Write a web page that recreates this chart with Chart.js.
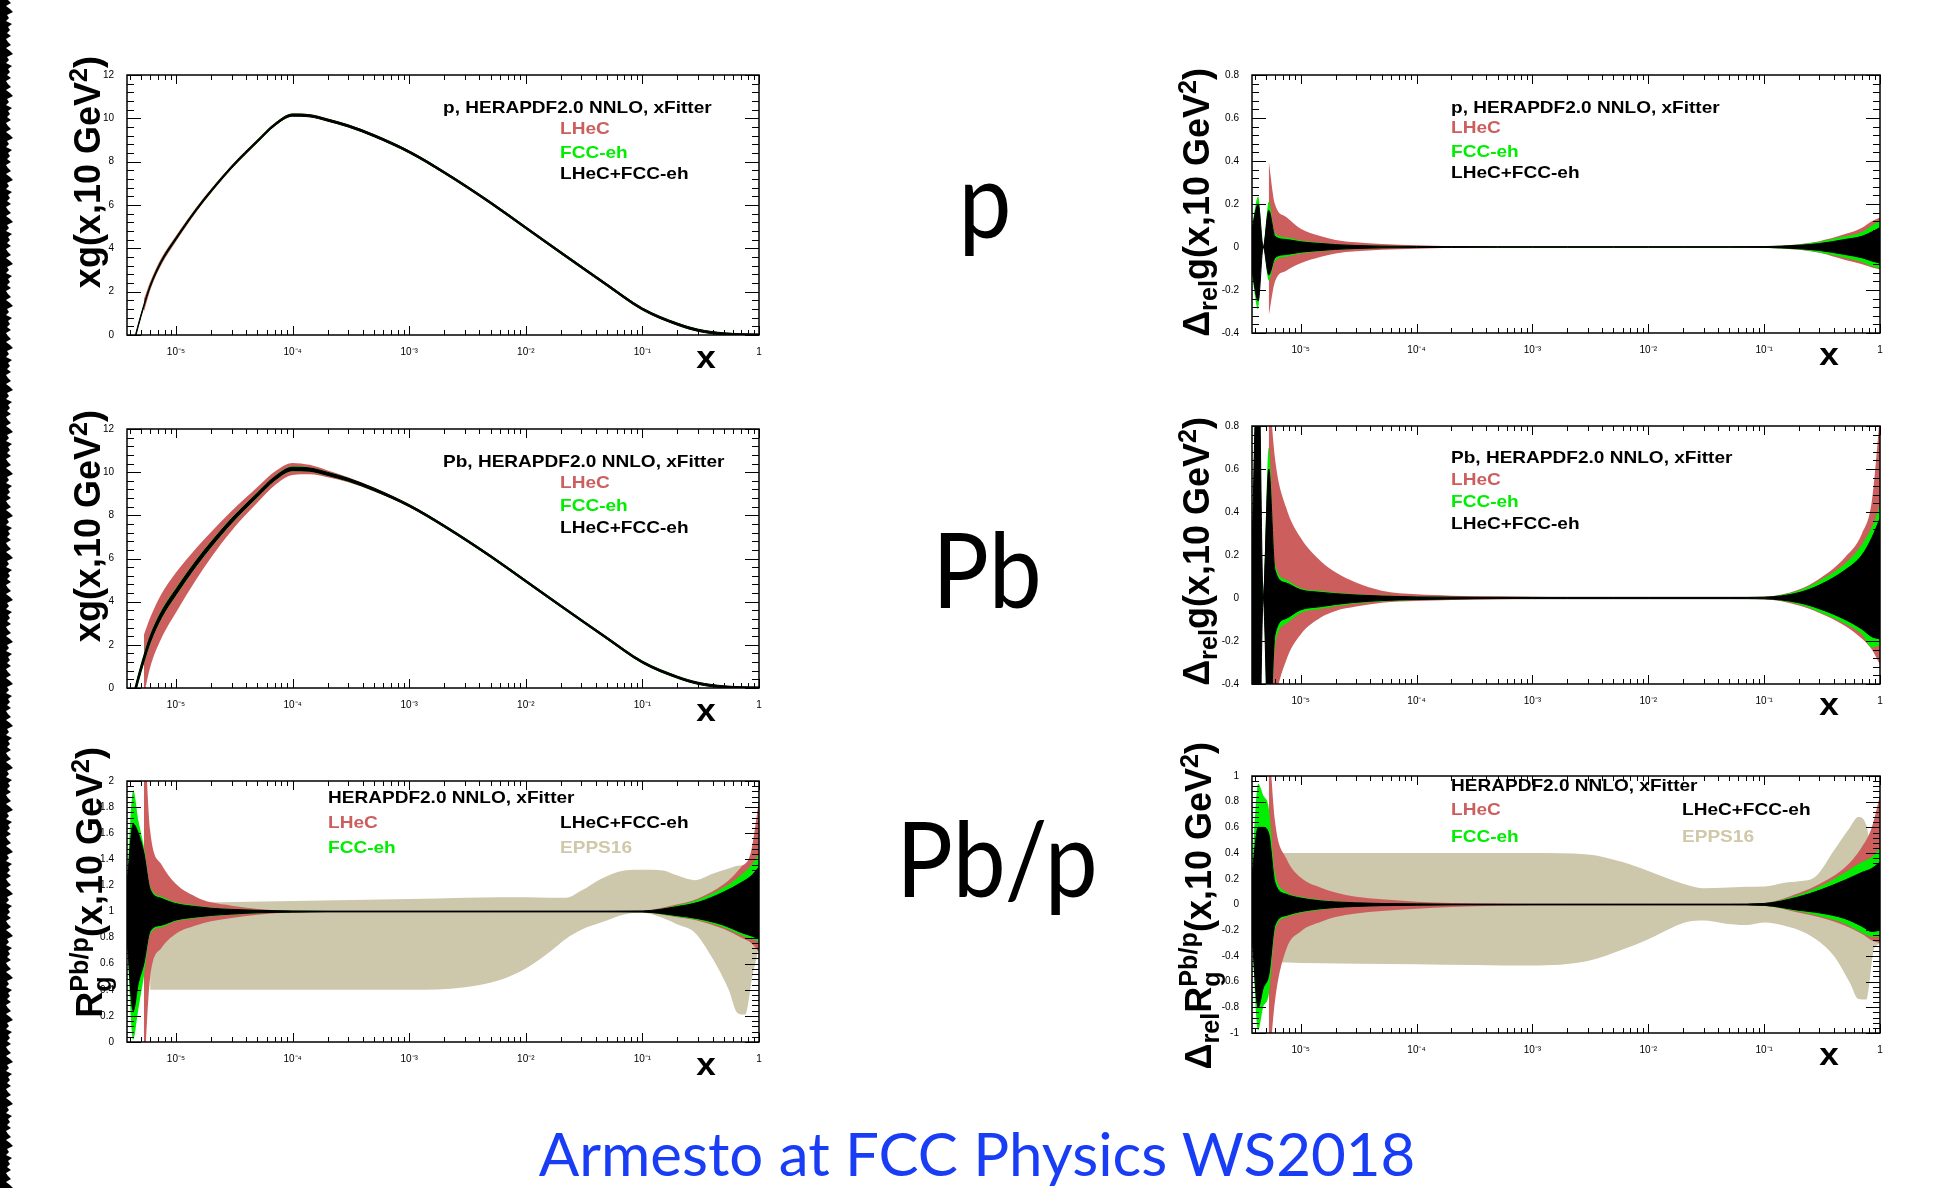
<!DOCTYPE html>
<html>
<head>
<meta charset="utf-8">
<script src="https://cdn.jsdelivr.net/npm/chart.js@4.4.1/dist/chart.umd.min.js"></script>
<style>
html, body { margin: 0; padding: 0; background: #fff; }
body { width: 1939px; height: 1188px; position: relative; overflow: hidden; font-family: 'Liberation Sans', Arial, sans-serif; }
canvas { position: absolute; }
.t { position: absolute; white-space: nowrap; }
.leg { font-weight: bold; font-size: 17px; line-height: 20px; transform: scaleX(1.12); transform-origin: 0 50%; }
.ytitle { font-weight: bold; font-size: 36px; line-height: 40px; height: 40px; width: 420px; text-align: right; transform: rotate(-90deg); }
.ytitle sup, .ytitle sub { font-size: 0.7em; line-height: 0; }
.ss { display: inline-block; font-size: 0.7em; line-height: 0.9em; vertical-align: -0.35em; text-align: left; }
.ss span { display: block; }
.xtitle { font-weight: bold; font-size: 32px; line-height: 32px; transform: translate(-50%, -50%) scaleX(1.1); }
.big { font-family: Lato, 'Open Sans', sans-serif; font-size: 105px; line-height: 1; transform: translateX(-50%) scaleX(0.9); }
#foot { font-family: Lato, 'Open Sans', sans-serif; font-size: 60px; line-height: 1; color: rgb(25,60,245); transform: translateX(-50%); }
#strip { position: absolute; left: 0; top: 0; width: 14px; height: 1188px; background: #000; }
</style>
</head>
<body>
<div id="strip"></div>
<div id="charts"></div>

<!-- legends -->
<div class="t leg" style="left:443px;top:98px">p, HERAPDF2.0 NNLO, xFitter</div>
<div class="t leg" style="left:560px;top:119px;color:rgb(204,94,94)">LHeC</div>
<div class="t leg" style="left:560px;top:143px;color:rgb(0,238,0)">FCC-eh</div>
<div class="t leg" style="left:560px;top:164px">LHeC+FCC-eh</div>

<div class="t leg" style="left:1451px;top:98px">p, HERAPDF2.0 NNLO, xFitter</div>
<div class="t leg" style="left:1451px;top:118px;color:rgb(204,94,94)">LHeC</div>
<div class="t leg" style="left:1451px;top:142px;color:rgb(0,238,0)">FCC-eh</div>
<div class="t leg" style="left:1451px;top:163px">LHeC+FCC-eh</div>

<div class="t leg" style="left:443px;top:452px">Pb, HERAPDF2.0 NNLO, xFitter</div>
<div class="t leg" style="left:560px;top:473px;color:rgb(204,94,94)">LHeC</div>
<div class="t leg" style="left:560px;top:496px;color:rgb(0,238,0)">FCC-eh</div>
<div class="t leg" style="left:560px;top:518px">LHeC+FCC-eh</div>

<div class="t leg" style="left:1451px;top:448px">Pb, HERAPDF2.0 NNLO, xFitter</div>
<div class="t leg" style="left:1451px;top:470px;color:rgb(204,94,94)">LHeC</div>
<div class="t leg" style="left:1451px;top:492px;color:rgb(0,238,0)">FCC-eh</div>
<div class="t leg" style="left:1451px;top:514px">LHeC+FCC-eh</div>

<div class="t leg" style="left:328px;top:788px">HERAPDF2.0 NNLO, xFitter</div>
<div class="t leg" style="left:328px;top:813px;color:rgb(204,94,94)">LHeC</div>
<div class="t leg" style="left:328px;top:838px;color:rgb(0,238,0)">FCC-eh</div>
<div class="t leg" style="left:560px;top:813px">LHeC+FCC-eh</div>
<div class="t leg" style="left:560px;top:838px;color:rgb(208,200,168)">EPPS16</div>

<div class="t leg" style="left:1451px;top:776px">HERAPDF2.0 NNLO, xFitter</div>
<div class="t leg" style="left:1451px;top:800px;color:rgb(204,94,94)">LHeC</div>
<div class="t leg" style="left:1451px;top:827px;color:rgb(0,238,0)">FCC-eh</div>
<div class="t leg" style="left:1682px;top:800px">LHeC+FCC-eh</div>
<div class="t leg" style="left:1682px;top:827px;color:rgb(208,200,168)">EPPS16</div>

<!-- y titles -->
<div class="t ytitle" style="left:-122px;top:246px">xg(x,10 GeV<sup>2</sup>)</div>
<div class="t ytitle" style="left:987px;top:258px">Δ<sub>rel</sub>g(x,10 GeV<sup>2</sup>)</div>
<div class="t ytitle" style="left:-122px;top:600px">xg(x,10 GeV<sup>2</sup>)</div>
<div class="t ytitle" style="left:987px;top:607px">Δ<sub>rel</sub>g(x,10 GeV<sup>2</sup>)</div>
<div class="t ytitle" style="left:-122px;top:937px">R<span class="ss"><span>Pb/p</span><span>g</span></span>(x,10 GeV<sup>2</sup>)</div>
<div class="t ytitle" style="left:987px;top:932px">Δ<sub>rel</sub>R<span class="ss"><span>Pb/p</span><span>g</span></span>(x,10 GeV<sup>2</sup>)</div>

<!-- x titles -->
<div class="t xtitle" style="left:706px;top:357px">x</div>
<div class="t xtitle" style="left:1829px;top:354px">x</div>
<div class="t xtitle" style="left:706px;top:710px">x</div>
<div class="t xtitle" style="left:1829px;top:704px">x</div>
<div class="t xtitle" style="left:706px;top:1064px">x</div>
<div class="t xtitle" style="left:1829px;top:1054px">x</div>

<!-- big labels -->
<div class="t big" style="left:985px;top:145px">p</div>
<div class="t big" style="left:987px;top:515px">Pb</div>
<div class="t big" style="left:997px;top:804px">Pb/p</div>

<div class="t" id="foot" style="left:977px;top:1123px">Armesto at FCC Physics WS2018</div>

<script>
// ---- x grid shared by the relative-uncertainty bands ----
const xGrid = [3.8e-6, 4.3e-6, 4.75e-6, 5.3e-6, 6e-6, 7.5e-6, 1e-5, 1.5e-5, 2e-5, 3e-5, 5e-5, 1e-4, 2e-4, 5e-4, 1e-3, 2e-3, 5e-3, 1e-2, 2e-2, 5e-2, 0.1, 0.2, 0.3, 0.5, 0.7, 0.85, 1.0];
const xTickValues = [1e-5, 1e-4, 1e-3, 1e-2, 1e-1, 1];
const xTickLabels = ['10⁻⁵', '10⁻⁴', '10⁻³', '10⁻²', '10⁻¹', '1'];

// ---- xg(x,10 GeV^2) panels: own, denser x grid ----
const xgX = [3.8e-6, 4.3e-6, 4.75e-6, 5.3e-6, 6e-6, 7.5e-6, 1e-5, 1.5e-5, 2e-5, 3e-5, 5e-5, 7e-5, 1e-4, 1.4e-4, 2e-4, 3e-4, 5e-4, 1e-3, 2e-3, 5e-3, 1e-2, 2e-2, 5e-2, 0.1, 0.2, 0.3, 0.5, 0.7, 1.0];
const xgCentral = [-1.6, -0.45, 0.45, 1.35, 2.25, 3.4, 4.45, 5.8, 6.65, 7.75, 8.95, 9.7, 10.15, 10.12, 9.92, 9.65, 9.2, 8.45, 7.5, 6.1, 4.95, 3.8, 2.3, 1.2, 0.5, 0.22, 0.05, 0.012, 0];

// p: half widths
const pXgBlackHw = [0.05, 0.05, 0.05, 0.05, 0.05, 0.05, 0.05, 0.05, 0.05, 0.05, 0.05, 0.05, 0.05, 0.05, 0.05, 0.05, 0.05, 0.05, 0.05, 0.05, 0.05, 0.05, 0.05, 0.05, 0.05, 0.05, 0.05, 0.05, 0.05];
const pXgGreenHw = [0.08, 0.08, 0.08, 0.08, 0.08, 0.075, 0.07, 0.07, 0.07, 0.065, 0.065, 0.06, 0.06, 0.06, 0.06, 0.06, 0.06, 0.06, 0.06, 0.06, 0.06, 0.06, 0.06, 0.06, 0.06, 0.06, 0.06, 0.06, 0.06];
const pXgRedHw = [null, null, null, 0.3, 0.2, 0.16, 0.13, 0.11, 0.1, 0.09, 0.08, 0.075, 0.07, 0.068, 0.065, 0.062, 0.06, 0.06, 0.06, 0.06, 0.06, 0.06, 0.06, 0.06, 0.06, 0.06, 0.06, 0.06, 0.06];

// Pb: half widths
const pbXgBlackHw = [0.15, 0.15, 0.15, 0.15, 0.15, 0.14, 0.13, 0.12, 0.11, 0.1, 0.09, 0.085, 0.08, 0.075, 0.07, 0.065, 0.06, 0.05, 0.05, 0.05, 0.05, 0.05, 0.05, 0.05, 0.05, 0.05, 0.05, 0.05, 0.05];
const pbXgGreenHw = [0.22, 0.22, 0.22, 0.24, 0.22, 0.2, 0.18, 0.16, 0.15, 0.14, 0.12, 0.115, 0.11, 0.1, 0.09, 0.08, 0.07, 0.06, 0.06, 0.06, 0.06, 0.06, 0.06, 0.06, 0.06, 0.06, 0.06, 0.06, 0.06];
const pbXgRedUp = [null, null, null, 1.1, 1.0, 0.95, 0.9, 0.7, 0.58, 0.45, 0.36, 0.32, 0.28, 0.22, 0.16, 0.12, 0.09, 0.06, 0.05, 0.05, 0.05, 0.05, 0.05, 0.05, 0.05, 0.05, 0.05, 0.05, 0.05];
const pbXgRedDn = [null, null, null, 1.7, 1.3, 1.1, 0.95, 0.75, 0.6, 0.46, 0.36, 0.32, 0.28, 0.22, 0.16, 0.12, 0.09, 0.06, 0.05, 0.05, 0.05, 0.05, 0.05, 0.05, 0.05, 0.05, 0.05, 0.05, 0.05];

// Delta_rel g, p
const pRelBlackHi = [0.085, 0.2, 0, 0.17, 0.05, 0.035, 0.024, 0.016, 0.011, 0.007, 0.004, 0.0025, 0.002, 0.0015, 0.0015, 0.0015, 0.0015, 0.0015, 0.0015, 0.0015, 0.002, 0.008, 0.016, 0.035, 0.05, 0.07, 0.09];
const pRelBlackLo = [-0.11, -0.25, 0, -0.13, -0.05, -0.035, -0.024, -0.016, -0.011, -0.007, -0.004, -0.0025, -0.002, -0.0015, -0.0015, -0.0015, -0.0015, -0.0015, -0.0015, -0.0015, -0.002, -0.008, -0.016, -0.035, -0.05, -0.065, -0.075];
const pRelGreenHi = [0.1, 0.235, 0, 0.21, 0.065, 0.045, 0.03, 0.02, 0.013, 0.008, 0.005, 0.003, 0.0025, 0.002, 0.002, 0.002, 0.002, 0.002, 0.002, 0.002, 0.003, 0.012, 0.025, 0.05, 0.07, 0.1, 0.125];
const pRelGreenLo = [-0.13, -0.29, 0, -0.156, -0.065, -0.045, -0.03, -0.02, -0.013, -0.008, -0.005, -0.003, -0.0025, -0.002, -0.002, -0.002, -0.002, -0.002, -0.002, -0.002, -0.003, -0.012, -0.025, -0.05, -0.07, -0.09, -0.1];
const pRelRedHi = [null, null, null, 0.4, 0.2, 0.14, 0.085, 0.05, 0.033, 0.022, 0.014, 0.008, 0.004, 0.002, 0.002, 0.002, 0.002, 0.002, 0.002, 0.002, 0.003, 0.013, 0.027, 0.06, 0.09, 0.12, 0.137];
const pRelRedLo = [null, null, null, -0.32, -0.16, -0.11, -0.075, -0.045, -0.03, -0.02, -0.013, -0.008, -0.004, -0.002, -0.002, -0.002, -0.002, -0.002, -0.002, -0.002, -0.003, -0.013, -0.027, -0.06, -0.08, -0.095, -0.105];

// Delta_rel g, Pb
const pbRelBlackHi = [0.22, 1.2, 0, 0.6, 0.13, 0.07, 0.038, 0.026, 0.02, 0.014, 0.009, 0.005, 0.004, 0.003, 0.003, 0.003, 0.003, 0.003, 0.003, 0.003, 0.004, 0.025, 0.06, 0.13, 0.2, 0.28, 0.37];
const pbRelBlackLo = [-0.45, -1.0, 0, -0.7, -0.17, -0.095, -0.055, -0.04, -0.03, -0.02, -0.012, -0.007, -0.005, -0.003, -0.003, -0.003, -0.003, -0.003, -0.003, -0.003, -0.004, -0.022, -0.05, -0.1, -0.145, -0.18, -0.19];
const pbRelGreenHi = [0.25, 1.3, 0, 0.7, 0.16, 0.085, 0.045, 0.032, 0.025, 0.018, 0.012, 0.007, 0.005, 0.004, 0.004, 0.004, 0.004, 0.004, 0.004, 0.004, 0.005, 0.035, 0.08, 0.16, 0.25, 0.33, 0.43];
const pbRelGreenLo = [-0.5, -1.1, 0, -0.8, -0.22, -0.12, -0.07, -0.05, -0.038, -0.025, -0.016, -0.009, -0.006, -0.004, -0.004, -0.004, -0.004, -0.004, -0.004, -0.004, -0.005, -0.03, -0.065, -0.12, -0.17, -0.23, -0.22];
const pbRelRedHi = [null, null, null, 1.0, 0.65, 0.42, 0.28, 0.17, 0.12, 0.072, 0.034, 0.017, 0.011, 0.008, 0.006, 0.004, 0.004, 0.004, 0.004, 0.004, 0.006, 0.04, 0.09, 0.19, 0.3, 0.45, 0.85];
const pbRelRedLo = [null, null, null, -0.8, -0.5, -0.29, -0.17, -0.09, -0.06, -0.04, -0.022, -0.014, -0.009, -0.006, -0.005, -0.004, -0.004, -0.004, -0.004, -0.004, -0.006, -0.035, -0.07, -0.13, -0.19, -0.24, -0.31];

// R_g^{Pb/p}
const rBlackHi = [1.2, 1.67, 1.6, 1.45, 1.17, 1.1, 1.06, 1.037, 1.025, 1.016, 1.009, 1.004, 1.003, 1.003, 1.003, 1.003, 1.003, 1.003, 1.003, 1.003, 1.004, 1.038, 1.07, 1.15, 1.22, 1.27, 1.34];
const rBlackLo = [0.8, 0.24, 0.45, 0.6, 0.85, 0.895, 0.935, 0.958, 0.97, 0.98, 0.99, 0.995, 0.997, 0.997, 0.997, 0.997, 0.997, 0.997, 0.997, 0.997, 0.996, 0.968, 0.945, 0.895, 0.84, 0.815, 0.79];
const rGreenHi = [1.22, 1.93, 1.7, 1.5, 1.19, 1.115, 1.07, 1.045, 1.03, 1.02, 1.012, 1.005, 1.004, 1.003, 1.003, 1.003, 1.003, 1.003, 1.003, 1.003, 1.005, 1.048, 1.09, 1.185, 1.28, 1.35, 1.44];
const rGreenLo = [0.77, 0.02, 0.25, 0.5, 0.83, 0.88, 0.925, 0.95, 0.963, 0.975, 0.986, 0.994, 0.996, 0.997, 0.997, 0.997, 0.997, 0.997, 0.997, 0.997, 0.995, 0.96, 0.935, 0.877, 0.82, 0.79, 0.77];
const rRedHi = [null, null, null, 2.5, 1.62, 1.36, 1.21, 1.11, 1.07, 1.045, 1.02, 1.006, 1.004, 1.003, 1.003, 1.003, 1.003, 1.003, 1.003, 1.003, 1.006, 1.055, 1.1, 1.21, 1.34, 1.45, 1.85];
const rRedLo = [null, null, null, -0.3, 0.49, 0.72, 0.83, 0.895, 0.925, 0.95, 0.975, 0.992, 0.996, 0.997, 0.997, 0.997, 0.997, 0.997, 0.997, 0.997, 0.994, 0.955, 0.93, 0.865, 0.8, 0.76, 0.69];

// Delta_rel R_g^{Pb/p}
const drBlackHi = [0.22, 0.6, 0.6, 0.55, 0.17, 0.08, 0.05, 0.028, 0.02, 0.013, 0.008, 0.005, 0.003, 0.003, 0.003, 0.003, 0.003, 0.003, 0.003, 0.003, 0.008, 0.06, 0.11, 0.19, 0.25, 0.28, 0.33];
const drBlackLo = [-0.24, -0.8, -0.65, -0.55, -0.16, -0.085, -0.055, -0.033, -0.023, -0.015, -0.009, -0.006, -0.003, -0.003, -0.003, -0.003, -0.003, -0.003, -0.003, -0.003, -0.007, -0.045, -0.065, -0.11, -0.17, -0.21, -0.2];
const drGreenHi = [0.25, 0.94, 0.85, 0.75, 0.25, 0.1, 0.06, 0.035, 0.025, 0.016, 0.01, 0.006, 0.004, 0.003, 0.003, 0.003, 0.003, 0.003, 0.003, 0.003, 0.01, 0.075, 0.14, 0.25, 0.33, 0.37, 0.44];
const drGreenLo = [-0.26, -0.98, -0.8, -0.7, -0.2, -0.1, -0.065, -0.04, -0.028, -0.018, -0.011, -0.007, -0.004, -0.003, -0.003, -0.003, -0.003, -0.003, -0.003, -0.003, -0.009, -0.055, -0.09, -0.15, -0.22, -0.25, -0.25];
const drRedHi = [null, null, null, 1.3, 0.65, 0.36, 0.21, 0.13, 0.093, 0.06, 0.04, 0.022, 0.012, 0.006, 0.004, 0.004, 0.004, 0.004, 0.004, 0.004, 0.012, 0.09, 0.16, 0.29, 0.45, 0.6, 0.85];
const drRedLo = [null, null, null, -1.3, -0.75, -0.35, -0.21, -0.135, -0.098, -0.07, -0.05, -0.034, -0.02, -0.01, -0.006, -0.005, -0.005, -0.005, -0.005, -0.005, -0.01, -0.065, -0.1, -0.165, -0.23, -0.28, -0.3];

// EPPS16 bands
const eppsX = [6e-6, 1e-5, 1e-4, 1e-3, 3e-3, 6e-3, 1e-2, 1.6e-2, 2.2e-2, 3e-2, 4.4e-2, 7e-2, 0.1, 0.15, 0.2, 0.28, 0.4, 0.55, 0.65, 0.76, 0.88, 0.94, 1.0];
const rEppsHi = [1.06, 1.065, 1.08, 1.095, 1.105, 1.11, 1.11, 1.105, 1.105, 1.16, 1.25, 1.315, 1.32, 1.315, 1.275, 1.24, 1.29, 1.33, 1.35, 1.355, 1.34, 1.45, 1.99];
const rEppsLo = [0.4, 0.4, 0.4, 0.4, 0.42, 0.476, 0.564, 0.69, 0.79, 0.86, 0.915, 0.977, 0.99, 0.95, 0.9, 0.84, 0.64, 0.4, 0.225, 0.21, 0.51, 0.62, 0.74];
const drEppsHi = [0.4, 0.4, 0.4, 0.4, 0.39, 0.33, 0.26, 0.19, 0.15, 0.126, 0.13, 0.138, 0.14, 0.17, 0.18, 0.22, 0.42, 0.6, 0.68, 0.62, 0.3, 0.25, 0.2];
const drEppsLo = [-0.45, -0.455, -0.465, -0.475, -0.44, -0.35, -0.27, -0.18, -0.135, -0.125, -0.145, -0.16, -0.14, -0.165, -0.2, -0.27, -0.4, -0.61, -0.735, -0.74, -0.36, -0.32, -0.3];

const BLACK = '#000';
const GREEN = 'rgb(0,238,0)';
const RED = 'rgb(204,94,94)';
const TAN = 'rgb(205,199,172)';

// left border scan artefact
const stripPattern = [8, 11, 6, 10, 13, 7, 9, 6, 12, 8, 10, 7, 11, 6];
(function () {
  const pts = ['0px 0px'];
  for (let i = 0, y = 0; y <= 1188; i++, y += 3) pts.push(stripPattern[i % stripPattern.length] + 'px ' + y + 'px');
  pts.push('0px 1188px');
  document.getElementById('strip').style.clipPath = 'polygon(' + pts.join(',') + ')';
})();

// a filled band = lower line + upper line filled down to it
function band(xs, lo, hi, color, bw) {
  const pts = arr => xs.map((x, i) => ({ x: x, y: arr[i] }));
  const common = { borderColor: color, borderWidth: bw, pointRadius: 0, clip: 0, cubicInterpolationMode: 'monotone' };
  return [
    Object.assign({ data: pts(lo), fill: false }, common),
    Object.assign({ data: pts(hi), fill: '-1', backgroundColor: color }, common)
  ];
}
const below = (c, w) => c.map((v, i) => w[i] == null ? null : v - w[i]);
const above = (c, w) => c.map((v, i) => w[i] == null ? null : v + w[i]);

// frame with inward ticks on all four sides, ROOT style
const frameTicks = {
  id: 'frameTicks',
  afterDatasetsDraw(chart, args, opts) {
    const { ctx, chartArea: a, scales: { x, y } } = chart;
    ctx.save();
    ctx.strokeStyle = '#000';
    ctx.lineWidth = 1;
    ctx.beginPath();
    for (let e = -6; e <= 0; e++) {
      for (let m = 1; m < 10; m++) {
        const v = m * Math.pow(10, e);
        if (v < x.min * 0.999 || v > x.max * 1.001) continue;
        const px = Math.round(x.getPixelForValue(v)) + 0.5;
        const len = m === 1 ? 9 : 5;
        ctx.moveTo(px, a.bottom); ctx.lineTo(px, a.bottom - len);
        ctx.moveTo(px, a.top); ctx.lineTo(px, a.top + len);
      }
    }
    const n = Math.round((y.max - y.min) / opts.minor);
    const per = Math.round(opts.major / opts.minor);
    for (let k = 0; k <= n; k++) {
      const v = y.min + k * opts.minor;
      const py = Math.round(y.getPixelForValue(v)) + 0.5;
      const len = k % per === 0 ? 14 : 7;
      ctx.moveTo(a.left, py); ctx.lineTo(a.left + len, py);
      ctx.moveTo(a.right, py); ctx.lineTo(a.right - len, py);
    }
    ctx.stroke();
    ctx.lineWidth = 1.5;
    ctx.strokeRect(a.left, a.top, a.width, a.height);
    ctx.restore();
  }
};

const tickFont = { family: 'Liberation Sans', size: 10 };

function makePanel(p) {
  const cv = document.createElement('canvas');
  const W = p.r - p.l + 48, H = p.b - p.t + 30;
  cv.width = W; cv.height = H;
  cv.style.left = (p.l - 40) + 'px';
  cv.style.top = (p.t - 6) + 'px';
  cv.style.width = W + 'px';
  cv.style.height = H + 'px';
  document.getElementById('charts').appendChild(cv);
  const datasets = [];
  p.bands.forEach(b => datasets.push(...b));
  new Chart(cv.getContext('2d'), {
    type: 'line',
    data: { datasets: datasets },
    options: {
      responsive: false,
      animation: false,
      devicePixelRatio: 1,
      layout: { padding: { top: 6, right: 8, left: 0, bottom: 0 } },
      plugins: {
        legend: { display: false },
        tooltip: { enabled: false },
        frameTicks: { major: p.yStep, minor: p.yMinor }
      },
      scales: {
        x: {
          type: 'logarithmic', min: 3.8e-6, max: 1,
          grid: { display: false }, border: { display: false },
          afterBuildTicks: ax => { ax.ticks = xTickValues.map(v => ({ value: v })); },
          afterFit: ax => { ax.height = 24; },
          ticks: { autoSkip: false, maxRotation: 0, padding: 3, color: '#000', font: tickFont,
                   callback: (v, i) => xTickLabels[i] }
        },
        y: {
          type: 'linear', min: p.yMin, max: p.yMax,
          grid: { display: false }, border: { display: false },
          afterFit: ax => { ax.width = 40; },
          ticks: { stepSize: p.yStep, padding: 5, color: '#000', font: tickFont,
                   callback: v => String(+v.toFixed(2)) }
        }
      }
    },
    plugins: [frameTicks]
  });
}

const panels = [
  { l: 127, t: 70, r: 759, b: 335, yMin: 0, yMax: 12, yStep: 2, yMinor: 0.4,
    bands: [
      band(xgX, below(xgCentral, pXgBlackHw), above(xgCentral, pXgBlackHw), BLACK, 1),
      band(xgX, below(xgCentral, pXgGreenHw), above(xgCentral, pXgGreenHw), GREEN, 0),
      band(xgX, below(xgCentral, pXgRedHw), above(xgCentral, pXgRedHw), RED, 0)
    ] },
  { l: 1252, t: 70, r: 1880, b: 333, yMin: -0.4, yMax: 0.8, yStep: 0.2, yMinor: 0.04,
    bands: [
      band(xGrid, pRelBlackLo, pRelBlackHi, BLACK, 1),
      band(xGrid, pRelGreenLo, pRelGreenHi, GREEN, 0),
      band(xGrid, pRelRedLo, pRelRedHi, RED, 0)
    ] },
  { l: 127, t: 424, r: 759, b: 688, yMin: 0, yMax: 12, yStep: 2, yMinor: 0.4,
    bands: [
      band(xgX, below(xgCentral, pbXgBlackHw), above(xgCentral, pbXgBlackHw), BLACK, 1),
      band(xgX, below(xgCentral, pbXgGreenHw), above(xgCentral, pbXgGreenHw), GREEN, 0),
      band(xgX, below(xgCentral, pbXgRedDn), above(xgCentral, pbXgRedUp), RED, 0)
    ] },
  { l: 1252, t: 421, r: 1880, b: 684, yMin: -0.4, yMax: 0.8, yStep: 0.2, yMinor: 0.04,
    bands: [
      band(xGrid, pbRelBlackLo, pbRelBlackHi, BLACK, 1),
      band(xGrid, pbRelGreenLo, pbRelGreenHi, GREEN, 0),
      band(xGrid, pbRelRedLo, pbRelRedHi, RED, 0)
    ] },
  { l: 127, t: 776, r: 759, b: 1042, yMin: 0, yMax: 2, yStep: 0.2, yMinor: 0.04,
    bands: [
      band(xGrid, rBlackLo, rBlackHi, BLACK, 1),
      band(xGrid, rGreenLo, rGreenHi, GREEN, 0),
      band(xGrid, rRedLo, rRedHi, RED, 0),
      band(eppsX, rEppsLo, rEppsHi, TAN, 0)
    ] },
  { l: 1252, t: 771, r: 1880, b: 1033, yMin: -1, yMax: 1, yStep: 0.2, yMinor: 0.04,
    bands: [
      band(xGrid, drBlackLo, drBlackHi, BLACK, 1),
      band(xGrid, drGreenLo, drGreenHi, GREEN, 0),
      band(xGrid, drRedLo, drRedHi, RED, 0),
      band(eppsX, drEppsLo, drEppsHi, TAN, 0)
    ] }
];

panels.forEach(makePanel);
</script>
</body>
</html>
